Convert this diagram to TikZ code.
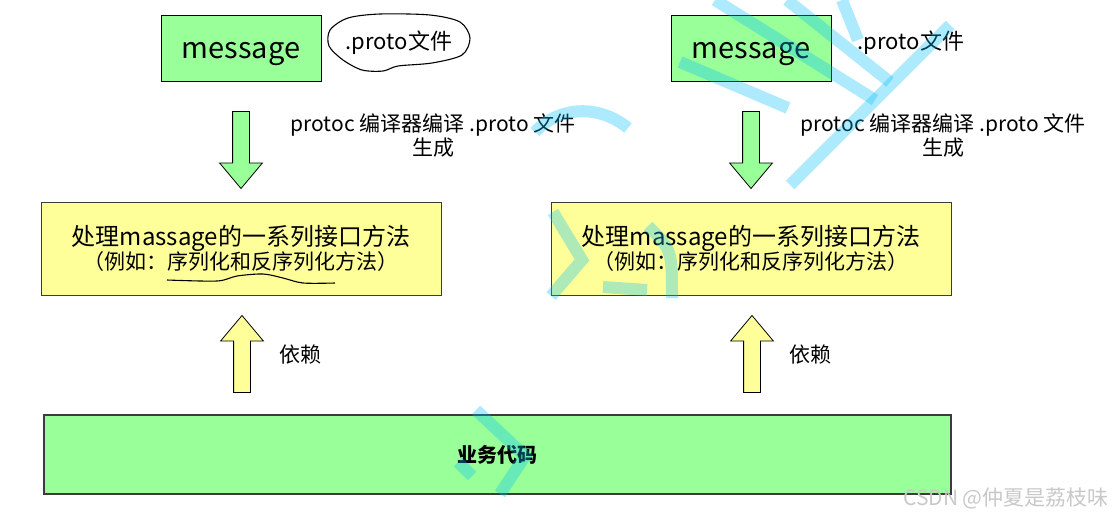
\documentclass[tikz,border=0pt]{standalone}
\usepackage{fontspec}
\setmainfont{Noto Sans CJK SC}
\usetikzlibrary{shapes.arrows, positioning, calc}
\definecolor{boxgreen}{RGB}{153,255,153}
\definecolor{boxyellow}{RGB}{255,255,153}
\definecolor{edgegray}{RGB}{60,60,60}
\definecolor{inkcyan}{RGB}{0,190,250}
\definecolor{markgray}{RGB}{200,200,200}

\begin{document}
\begin{tikzpicture}[
    x=1pt, y=-1pt,
    msgBox/.style={draw=black, fill=boxgreen, line width=0.9pt, minimum width=160pt, minimum height=66pt, inner sep=0pt, text height=24pt, text depth=4pt, font=\fontsize{29}{33}\selectfont},
    apiBox/.style={draw=edgegray, fill=boxyellow, line width=0.9pt, minimum width=400pt, minimum height=93pt, inner sep=0pt, align=center, font=\fontsize{21}{24}\selectfont},
    bizBox/.style={draw=edgegray, fill=boxgreen, line width=1.2pt, minimum width=907pt, minimum height=79pt, inner sep=0pt, font=\fontsize{20}{24}\selectfont\bfseries},
    noteText/.style={inner sep=0pt, align=center, font=\fontsize{21}{24}\selectfont},
    blockArrow/.style={single arrow, draw=black, line width=0.8pt, minimum height=77pt, minimum width=42pt, inner xsep=0pt, inner ysep=8pt, single arrow head extend=13pt, single arrow tip angle=80},
    downArrow/.style={blockArrow, rotate=-90, fill=boxgreen},
    upArrow/.style={blockArrow, rotate=90, fill=boxyellow},
    scrawl/.style={draw=black, line width=1.1pt},
    inkStroke/.style={draw=inkcyan, opacity=0.32, line width=12pt}
]
\useasboundingbox (0,0) rectangle (1119,520);

% left column
\node[msgBox] (msgL) at (241,48) {message};
\node[noteText, font=\fontsize{22}{26}\selectfont] (protoL) at (399,43) {.proto文件};
\draw[scrawl] plot[smooth cycle] coordinates {(330,30) (348,18) (380,14) (430,15) (460,22) (470,38) (462,55) (432,63) (398,66) (383,71) (362,70) (343,60) (329,46)};
\node[downArrow] (genL) at (241,145) {};
\node[noteText] (stepL) at (433,136) {protoc 编译器编译 .proto 文件\\生成};
\node[apiBox] (apiL) at (241,248.5) {{\fontsize{24}{26}\selectfont 处理massage的一系列接口方法}\\（例如：序列化和反序列化方法）};
\draw[scrawl] plot[smooth] coordinates {(167,280) (217,281) (237,276) (263,274) (283,278) (303,283) (335,283)};
\node[upArrow] (useL) at (242,359) {};
\node[noteText] (depL) at (300,355) {依赖};

% right column
\node[msgBox] (msgR) at (751,48) {message};
\node[noteText, font=\fontsize{22}{26}\selectfont] (protoR) at (911,43) {.proto文件};
\node[downArrow] (genR) at (751,145) {};
\node[noteText] (stepR) at (943,136) {protoc 编译器编译 .proto 文件\\生成};
\node[apiBox] (apiR) at (751,248.5) {{\fontsize{24}{26}\selectfont 处理massage的一系列接口方法}\\（例如：序列化和反序列化方法）};
\node[upArrow] (useR) at (752,359) {};
\node[noteText] (depR) at (810,355) {依赖};

% shared base
\node[bizBox] (biz) at (497.5,454.5) {业务代码};
\node[noteText, text=markgray, font=\fontsize{21}{24}\selectfont] (mark) at (1006,498) {CSDN @仲夏是荔枝味};

% cyan scribbles
\draw[inkStroke] (715,0) -- (875,100);
\draw[inkStroke] (787,0) -- (890,82);
\draw[inkStroke] (950,25) -- (790,185);
\draw[inkStroke] (842,0) -- (858,40);
\draw[inkStroke] (680,62) -- (788,108);
\draw[inkStroke] (535,132) .. controls (560,105) and (600,105) .. (628,128);
\draw[inkStroke] (553,212) -- (582,260) -- (551,296);
\draw[inkStroke] (603,287) -- (647,290);
\draw[inkStroke] (648,226) .. controls (672,250) .. (672,298);
\draw[inkStroke] (476,410) -- (525,456) -- (500,494);
\draw[inkStroke] (458,462) -- (472,476);
\end{tikzpicture}
\end{document}
